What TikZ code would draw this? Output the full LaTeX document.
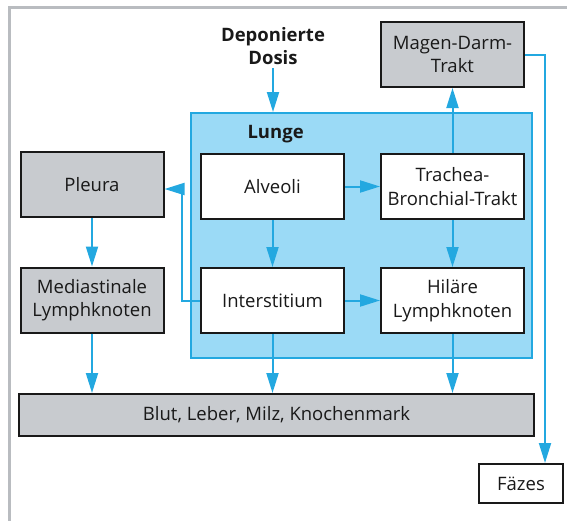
\documentclass[tikz,border=0pt]{standalone}
\usepackage{fontspec}
\setmainfont{Open Sans}
\usetikzlibrary{arrows.meta, positioning}
\definecolor{lungblue}{RGB}{155,218,246}
\definecolor{arrowblue}{RGB}{35,168,224}
\definecolor{boxgray}{RGB}{200,203,207}
\definecolor{framegray}{RGB}{185,188,192}

\begin{document}
\begin{tikzpicture}[x=1pt, y=-1pt, >={Triangle[length=20pt, width=12pt]},
  every node/.style={font=\fontsize{18.5}{23.5}\selectfont, text=black!90},
  organ/.style={draw=black!90, line width=2pt, minimum width=143pt, minimum height=65pt, align=center, inner sep=0pt},
  graybox/.style={organ, fill=boxgray},
  whitebox/.style={organ, fill=white},
  flow/.style={->, draw=arrowblue, line width=2pt}]
\useasboundingbox (0,0) rectangle (567,520);
\draw[framegray, line width=3pt] (9,600) |- (700,7.5);
\node[draw=arrowblue, fill=lungblue, line width=2pt, minimum width=341pt, minimum height=245pt] (lung) at (361.5,235.5) {};
\node[anchor=west, font=\fontsize{18.5}{23.5}\selectfont\bfseries] (lunge) at (244,134) {Lunge};
\node[align=center, font=\fontsize{18.5}{23.5}\selectfont\bfseries] (dosis) at (273,46) {Deponierte\\Dosis};
\node[graybox] (magen) at (452.5,54.5) {Magen-Darm-\\Trakt};
\node[graybox] (pleura) at (92,184.5) {Pleura};
\node[graybox] (medi) at (92,300) {Mediastinale\\Lymphknoten};
\node[whitebox] (alv) at (272.5,186.5) {Alveoli};
\node[whitebox] (trach) at (452.5,186.5) {Trachea-\\Bronchial-Trakt};
\node[whitebox] (inter) at (272.5,300.5) {Interstitium};
\node[whitebox] (hil) at (452.5,300.5) {Hiläre\\Lymphknoten};
\node[graybox, minimum width=515pt, minimum height=42pt] (blut) at (276.5,415) {Blut, Leber, Milz, Knochenmark};
\node[whitebox, minimum width=84pt, minimum height=39pt] (faezes) at (521,483.5) {Fäzes};
\draw[flow] (dosis) -- (dosis |- lung.north);
\draw[flow] (alv) -- (trach);
\draw[flow] (alv) -- (inter);
\draw[flow] (inter) -- (hil);
\draw[flow] (trach) -- (hil);
\draw[flow] (trach) -- (magen);
\draw[flow] (pleura) -- (medi);
\draw[flow] (inter.west) -- ++(-18,0) |- ([yshift=-4.5pt]pleura.east);
\draw[flow] (medi) -- (medi |- blut.north);
\draw[flow] (inter) -- (inter |- blut.north);
\draw[flow] (hil) -- (hil |- blut.north);
\draw[flow] (magen.east) -| ([xshift=24pt]faezes.north);
\end{tikzpicture}
\end{document}
